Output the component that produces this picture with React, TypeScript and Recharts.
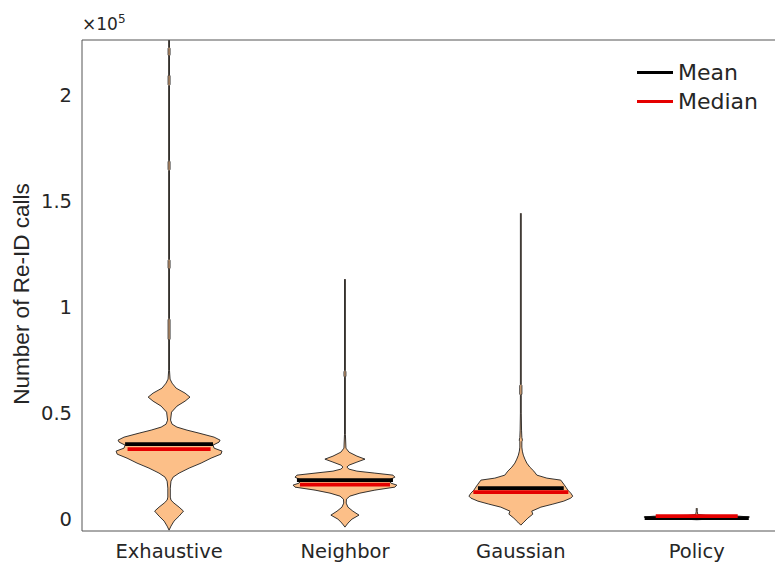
import { ComposedChart, Area, XAxis, YAxis, ReferenceLine } from 'recharts';

// violin groups along the x axis
const categories = ['Exhaustive', 'Neighbor', 'Gaussian', 'Policy'];

// each violin: value levels (bottom to top) and the half width of the density at each level
const exhaustiveLevels = [
  -5200, -3300, -940, 1420, 3770, 5660, 7550, 8960, 10380, 14620, 17920, 19810, 21700, 24060,
  26420, 28770, 30660, 32080, 33490, 34910, 36320, 37260, 38680, 40570, 41980, 43400, 44810,
  46700, 50470, 53300, 55660, 57550, 59430, 61790, 64150, 66040, 70000, 84500, 85000, 94000,
  94500, 118000, 118500, 122000, 122500, 164500, 165000, 168500, 169000, 204500, 205000, 209000,
  209500, 218500, 219000, 222000, 222500, 226000,
];
const exhaustiveWidths = [
  0, 0.011, 0.028, 0.057, 0.082, 0.057, 0.028, 0.011, 0.007, 0.007, 0.011, 0.023, 0.057, 0.114,
  0.182, 0.239, 0.295, 0.301, 0.256, 0.25, 0.284, 0.29, 0.256, 0.17, 0.102, 0.045, 0.017,
  0.0085, 0.014, 0.045, 0.091, 0.119, 0.091, 0.04, 0.017, 0.0057, 0.0025, 0.0025, 0.0055, 0.0055,
  0.0025, 0.0025, 0.0055, 0.0055, 0.0025, 0.0025, 0.0055, 0.0055, 0.0025, 0.0025, 0.0055, 0.0055,
  0.0025, 0.0025, 0.0055, 0.0055, 0.0025, 0.0025,
];

const neighborLevels = [
  -3770, -1890, 0, 1890, 3770, 5660, 7550, 9430, 10850, 12260, 13680, 15090, 16040, 16980,
  18400, 19810, 20750, 21700, 22640, 23580, 24530, 25470, 26890, 28300, 29720, 31600, 33490,
  40000, 67000, 67500, 69500, 70000, 113200,
];
const neighborWidths = [
  0, 0.017, 0.04, 0.08, 0.045, 0.017, 0.007, 0.0085, 0.028, 0.085, 0.17, 0.284, 0.295, 0.261,
  0.25, 0.284, 0.273, 0.17, 0.068, 0.023, 0.011, 0.023, 0.068, 0.114, 0.068, 0.023, 0.0057,
  0.0025, 0.0025, 0.0055, 0.0055, 0.0025, 0.0025,
];

const gaussianLevels = [
  -2830, -1420, 470, 2360, 3770, 5660, 7080, 8490, 9910, 10850, 12260, 13680, 15090, 16510,
  18400, 19340, 20750, 22640, 24530, 26420, 28300, 30190, 32080, 33960, 36500, 37260, 38500,
  41980, 50000, 58500, 59000, 63000, 63500, 144300,
];
const gaussianWidths = [
  0, 0.017, 0.04, 0.068, 0.062, 0.114, 0.182, 0.244, 0.284, 0.295, 0.284, 0.267, 0.256, 0.244,
  0.227, 0.148, 0.091, 0.074, 0.051, 0.034, 0.023, 0.014, 0.0085, 0.0057, 0.0057, 0.009, 0.0057,
  0.004, 0.0025, 0.0025, 0.006, 0.006, 0.0025, 0.0025,
];

const policyLevels = [-300, 200, 600, 1000, 1400, 1800, 2200, 3500, 5200];
const policyWidths = [0, 0.12, 0.28, 0.3, 0.24, 0.05, 0.006, 0.003, 0.0025];

// summary statistics per group, with the half width of each marker line
const means = [35380, 18400, 14620, 470];
const medians = [33020, 16270, 12740, 1415];
const meanWidths = [0.25, 0.273, 0.244, 0.296];
const medianWidths = [0.236, 0.256, 0.27, 0.233];

const yTicks = [0, 50000, 100000, 150000, 200000];
const yDomain = [-5600, 226000];
const xDomain = [0.505, 4.445];

const legendItems = [
  { name: 'Mean', color: '#000000' },
  { name: 'Median', color: '#e50000' },
];

const violins = [
  { key: 'exhaustive', levels: exhaustiveLevels, widths: exhaustiveWidths },
  { key: 'neighbor', levels: neighborLevels, widths: neighborWidths },
  { key: 'gaussian', levels: gaussianLevels, widths: gaussianWidths },
  { key: 'policy', levels: policyLevels, widths: policyWidths },
];

type Row = { v: number; [key: string]: number | number[] };

// one row per level; each violin only fills its own key so the areas stay separate
const rows: Row[] = violins.flatMap((vi, i) =>
  vi.levels.map((v, j) => ({ v, [vi.key]: [i + 1 - vi.widths[j], i + 1 + vi.widths[j]] }))
);

// rows of other violins become breaks on both edges of the area
const rangeOf = (key: string) => (d: Row) => (d[key] as number[] | undefined) ?? [null, null];

const TEXT = '#262626';
const AXIS = '#555555';
const FILL = '#fcbf88';
const EDGE = '#1f1f1f';

export default function App() {
  return (
    <div style={{ position: 'absolute', left: 0, top: 0, width: 775, height: 563, background: '#fff' }}>
      <ComposedChart
        width={775}
        height={563}
        data={rows}
        layout="vertical"
        margin={{ top: 40, right: 0, bottom: 0, left: 0 }}
      >
        <XAxis
          type="number"
          domain={xDomain}
          allowDataOverflow
          ticks={[1, 2, 3, 4]}
          interval={0}
          tickFormatter={(i: number) => categories[i - 1]}
          tickLine={false}
          tickSize={0}
          tickMargin={13}
          height={32}
          axisLine={{ stroke: AXIS }}
          tick={{ fill: TEXT, fontSize: 19.5, fontFamily: 'DejaVu Sans' }}
        />
        <YAxis
          type="number"
          dataKey="v"
          reversed
          domain={yDomain}
          allowDataOverflow
          ticks={yTicks}
          interval={0}
          tickFormatter={(v: number) => String(v / 100000)}
          tickLine={false}
          tickSize={0}
          tickMargin={10}
          width={82}
          axisLine={{ stroke: AXIS }}
          tick={{ fill: TEXT, fontSize: 19.5, fontFamily: 'DejaVu Sans' }}
        />
        {/* top frame of the axes box */}
        <ReferenceLine y={yDomain[1]} stroke={AXIS} strokeWidth={1} ifOverflow="visible" />
        {violins.map((vi) => (
          <Area
            key={vi.key}
            dataKey={rangeOf(vi.key)}
            type="linear"
            fill={FILL}
            fillOpacity={1}
            stroke={EDGE}
            strokeWidth={0.9}
            dot={false}
            activeDot={false}
            isAnimationActive={false}
          />
        ))}
        {means.map((m, i) => (
          <ReferenceLine
            key={`mean-${i}`}
            segment={[
              { x: i + 1 - meanWidths[i], y: m },
              { x: i + 1 + meanWidths[i], y: m },
            ]}
            stroke="#000000"
            strokeWidth={3.8}
          />
        ))}
        {medians.map((m, i) => (
          <ReferenceLine
            key={`median-${i}`}
            segment={[
              { x: i + 1 - medianWidths[i], y: m },
              { x: i + 1 + medianWidths[i], y: m },
            ]}
            stroke="#e50000"
            strokeWidth={3.8}
          />
        ))}
      </ComposedChart>

      {/* exponent of the value axis */}
      <div
        style={{
          position: 'absolute',
          left: 82,
          top: 14,
          fontFamily: 'DejaVu Sans',
          fontSize: 17,
          color: TEXT,
          lineHeight: '20px',
        }}
      >
        ×10<sup style={{ fontSize: 12, verticalAlign: 'top', position: 'relative', top: -5 }}>5</sup>
      </div>

      {/* value axis title */}
      <div
        style={{
          position: 'absolute',
          left: 22,
          top: 294,
          transform: 'translate(-50%, -50%) rotate(-90deg)',
          whiteSpace: 'nowrap',
          fontFamily: 'Liberation Sans',
          fontSize: 22.5,
          color: TEXT,
          lineHeight: '24px',
        }}
      >
        Number of Re-ID calls
      </div>

      {/* legend */}
      <div style={{ position: 'absolute', left: 637, top: 58, fontFamily: 'DejaVu Sans', fontSize: 22, color: TEXT }}>
        {legendItems.map((item) => (
          <div key={item.name} style={{ display: 'flex', alignItems: 'center', height: 29 }}>
            <span style={{ display: 'inline-block', width: 36, height: 3, background: item.color, marginRight: 5 }} />
            <span>{item.name}</span>
          </div>
        ))}
      </div>
    </div>
  );
}
